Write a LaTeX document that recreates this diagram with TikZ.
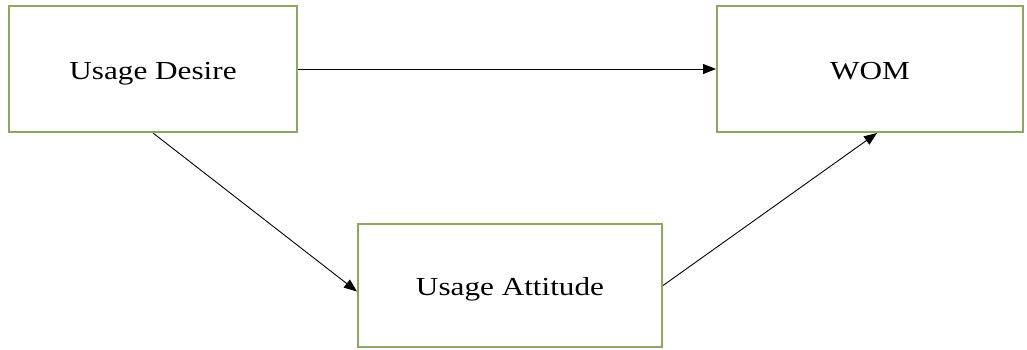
\documentclass[tikz,border=0pt]{standalone}
\usepackage{fontspec}
\setmainfont{Liberation Serif}[FakeStretch=1.2]
\usepackage{tikz}
\usetikzlibrary{positioning}
\usetikzlibrary{arrows.meta}
\definecolor{boxgreen}{RGB}{138,168,98}

\begin{document}
\begin{tikzpicture}[x=1pt,y=-1pt,
    var/.style={shape=rectangle,draw=boxgreen,line width=2pt,fill=white,
        font=\fontsize{26}{30}\selectfont,inner sep=0pt,
        text height=20pt,text depth=0pt},
    path/.style={draw=black,line width=0.9pt,-{Triangle[length=13pt, width=10pt]}}]
    \useasboundingbox (0,0) rectangle (1027,349);
    \node[var,minimum width=288pt,minimum height=126pt] (U_D) at (153,69) {Usage Desire};
    \node[var,minimum width=306pt,minimum height=126pt] (W_M) at (870,69) {WOM};
    \node[var,minimum width=304pt,minimum height=123pt] (U_A) at (510,285.5) {Usage Attitude};
    
    
    \draw [path] (U_D.east) -- (W_M.west);
    \draw [path] (U_D.south) -- ([yshift=-6pt]U_A.west);
    \draw [path] (U_A.east) -- ([xshift=7pt]W_M.south);
\end{tikzpicture}
\end{document}
